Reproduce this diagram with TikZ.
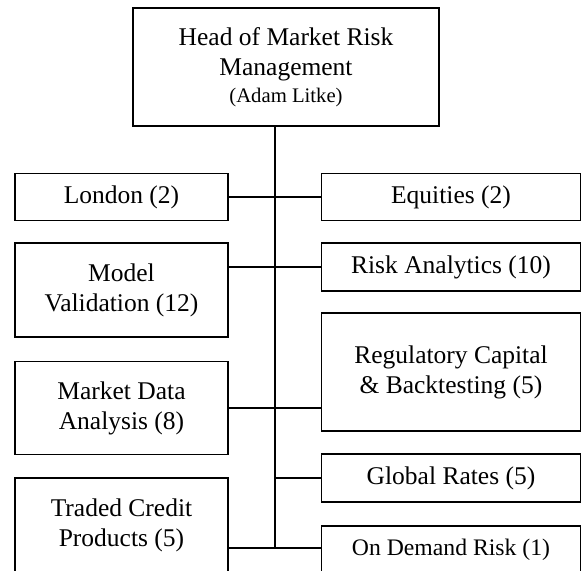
\documentclass[tikz,border=0pt]{standalone}
\usepackage{fontspec}
\setmainfont{Liberation Serif}
\begin{document}
\begin{tikzpicture}[x=1pt,y=-1pt,
  box/.style={draw,line width=1.4pt,inner sep=0pt,align=center,
    font=\fontsize{25.5}{30}\selectfont},
  conn/.style={line width=1.4pt}]
\useasboundingbox (0,0) rectangle (582,571);
\clip (0,0) rectangle (582,571);
\node[box,minimum width=306pt,minimum height=118pt] (head) at (286,67)
  {Head of Market Risk\\Management\\[-3pt]{\fontsize{20.7}{24}\selectfont (Adam Litke)}};
\node[box,minimum width=213pt,minimum height=47pt] (london) at (121.5,197) {London (2)};
\node[box,minimum width=259pt,minimum height=47pt] (equities) at (451,197) {Equities (2)};
\node[box,minimum width=213pt,minimum height=94pt] (model) at (121.5,290) {Model\\Validation (12)};
\node[box,minimum width=259pt,minimum height=48pt] (risk) at (451,267) {Risk Analytics (10)};
\node[box,minimum width=259pt,minimum height=118pt] (reg) at (451,372) {Regulatory Capital\\\& Backtesting (5)};
\node[box,minimum width=213pt,minimum height=93pt] (market) at (121.5,408) {Market Data\\Analysis (8)};
\node[box,minimum width=259pt,minimum height=48pt] (global) at (451,478) {Global Rates (5)};
\node[box,minimum width=213pt,minimum height=94pt] (traded) at (121.5,525) {Traded Credit\\Products (5)};
\node[box,minimum width=259pt,minimum height=48pt,font=\fontsize{23.7}{28}\selectfont] (ondemand) at (451,550) {On Demand Risk (1)};
\coordinate (trunktop) at (275,126);
\coordinate (trunkend) at (275,548);
\draw[conn] (trunktop) -- (trunkend);
\draw[conn] (london.east) -- (equities.west);
\draw[conn] (model.east |- risk.west) -- (risk.west);
\draw[conn] (market.east) -- (market.east -| reg.west);
\draw[conn] (global.west -| trunktop) -- (global.west);
\draw[conn] (traded.east |- trunkend) -- (ondemand.west |- trunkend);
\end{tikzpicture}
\end{document}
